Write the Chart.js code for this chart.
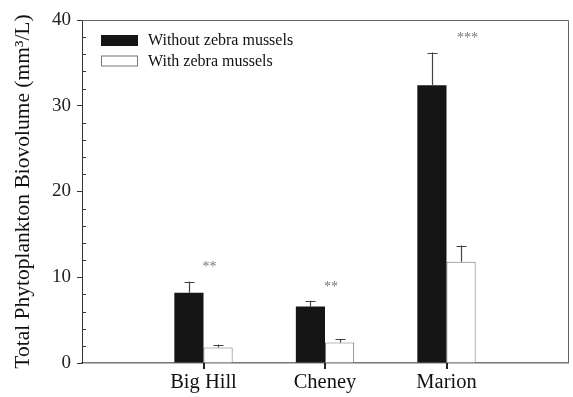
<!DOCTYPE html>
<html>
<head>
<meta charset="utf-8">
<script src="https://cdn.jsdelivr.net/npm/chart.js@4/dist/chart.umd.min.js"></script>
<style>
  html, body { margin: 0; padding: 0; background: #fff; }
  #wrap { width: 573px; height: 397px; }
</style>
</head>
<body>
<div id="wrap"><canvas id="c" width="573" height="397"></canvas></div>
<script>
// Lakes and total phytoplankton biovolume (mm3/L), mean with +1 SE
const lakes = ['Big Hill', 'Cheney', 'Marion'];
const withoutMussels = [8.2, 6.6, 32.4];
const withoutMusselsErr = [1.3, 0.65, 3.8];
const withMussels = [1.8, 2.4, 11.8];
const withMusselsErr = [0.35, 0.35, 1.9];
const significance = ['**', '**', '***'];
const yTicks = [0, 10, 20, 30, 40];

const SERIF = '"Liberation Serif", "Times New Roman", serif';

// Empty slots at both ends give the axis its outer margins
const labels = ['', ...lakes, ''];
const pad = arr => [null, ...arr, null];

const errorBars = {
  id: 'errorBars',
  afterDatasetsDraw(chart) {
    const ctx = chart.ctx;
    const y = chart.scales.y;
    const errs = [withoutMusselsErr, withMusselsErr];
    const vals = [withoutMussels, withMussels];
    ctx.save();
    ctx.strokeStyle = '#444';
    ctx.lineWidth = 1.2;
    chart.data.datasets.forEach((ds, d) => {
      const meta = chart.getDatasetMeta(d);
      vals[d].forEach((v, i) => {
        const el = meta.data[i + 1];
        if (!el) return;
        const x = Math.round(el.x) + 0.5;
        const y0 = y.getPixelForValue(v);
        const y1 = y.getPixelForValue(v + errs[d][i]);
        ctx.beginPath();
        ctx.moveTo(x, y0);
        ctx.lineTo(x, y1);
        ctx.moveTo(x - 5, Math.round(y1) + 0.5);
        ctx.lineTo(x + 5, Math.round(y1) + 0.5);
        ctx.stroke();
      });
    });
    ctx.restore();
  }
};

const frameAndMarks = {
  id: 'frameAndMarks',
  afterDraw(chart) {
    const ctx = chart.ctx;
    const a = chart.chartArea;
    const xs = chart.scales.x, ys = chart.scales.y;
    ctx.save();
    // top and right border
    ctx.strokeStyle = '#666';
    ctx.lineWidth = 1;
    ctx.beginPath();
    ctx.moveTo(a.left, Math.round(a.top) + 0.5);
    ctx.lineTo(Math.round(a.right) + 0.5, Math.round(a.top) + 0.5);
    ctx.lineTo(Math.round(a.right) + 0.5, a.bottom);
    ctx.stroke();
    // minor ticks every 2 units, pointing inward
    ctx.strokeStyle = '#333';
    ctx.beginPath();
    for (let v = 2; v < 40; v += 2) {
      if (v % 10 === 0) continue;
      const py = Math.round(ys.getPixelForValue(v)) + 0.5;
      ctx.moveTo(a.left, py);
      ctx.lineTo(a.left + 4, py);
    }
    ctx.stroke();
    // category tick marks below the x axis
    ctx.fillStyle = '#222';
    lakes.forEach((_, i) => {
      const px = Math.round(xs.getPixelForValue(i + 1));
      ctx.fillRect(px - 1, Math.round(a.bottom), 2, 6);
    });
    // significance stars
    const shift = [6, 6, 21];
    ctx.fillStyle = '#777';
    ctx.font = '14px ' + SERIF;
    ctx.textAlign = 'center';
    ctx.textBaseline = 'middle';
    significance.forEach((s, i) => {
      const top = Math.max(withoutMussels[i] + withoutMusselsErr[i], withMussels[i] + withMusselsErr[i]);
      const px = xs.getPixelForValue(i + 1) + shift[i];
      const py = ys.getPixelForValue(top) - 14;
      ctx.fillText(s, px, py);
    });
    // legend
    const items = chart.data.datasets;
    ctx.font = '16px ' + SERIF;
    ctx.textAlign = 'left';
    ctx.textBaseline = 'middle';
    items.forEach((ds, i) => {
      const by = 35 + i * 20.5;
      ctx.fillStyle = ds.backgroundColor;
      ctx.fillRect(101, by, 37, 11);
      if (ds.borderWidth) {
        ctx.strokeStyle = ds.borderColor;
        ctx.lineWidth = 1;
        ctx.strokeRect(101.5, by + 0.5, 36, 10);
      }
      ctx.fillStyle = '#111';
      ctx.fillText(ds.label, 148, by + 6);
    });
    ctx.restore();
  }
};

new Chart(document.getElementById('c'), {
  type: 'bar',
  data: {
    labels,
    datasets: [
      {
        label: 'Without zebra mussels',
        data: pad(withoutMussels),
        backgroundColor: '#151515',
        borderWidth: 0
      },
      {
        label: 'With zebra mussels',
        data: pad(withMussels),
        backgroundColor: '#ffffff',
        borderColor: '#777',
        borderWidth: 1
      }
    ]
  },
  options: {
    responsive: false,
    animation: false,
    layout: { padding: { left: 0, right: 5, top: 20, bottom: 0 } },
    datasets: { bar: { categoryPercentage: 0.48, barPercentage: 1 } },
    plugins: { legend: { display: false }, tooltip: { enabled: false } },
    scales: {
      x: {
        offset: false,
        afterFit(s) { s.height = 34; },
        grid: { offset: false, drawOnChartArea: false, drawTicks: true, tickLength: 5, tickColor: 'rgba(0,0,0,0)' },
        border: { color: '#777', width: 1.5 },
        ticks: { color: '#111', font: { family: SERIF, size: 20.5 }, padding: 2, maxRotation: 0, autoSkip: false }
      },
      y: {
        min: 0,
        max: 40,
        afterFit(s) { s.width = 82; },
        afterBuildTicks(s) { s.ticks = yTicks.map(v => ({ value: v })); },
        grid: { drawOnChartArea: false, drawTicks: true, tickLength: 5, color: '#333' },
        border: { color: '#333', width: 1 },
        ticks: { color: '#222', font: { family: SERIF, size: 19 }, padding: 6 },
        title: {
          display: true,
          text: 'Total Phytoplankton Biovolume (mm³/L)',
          color: '#111',
          font: { family: SERIF, size: 21.5 },
          padding: { top: 10, bottom: 0 }
        }
      }
    }
  },
  plugins: [errorBars, frameAndMarks]
});
</script>
</body>
</html>
